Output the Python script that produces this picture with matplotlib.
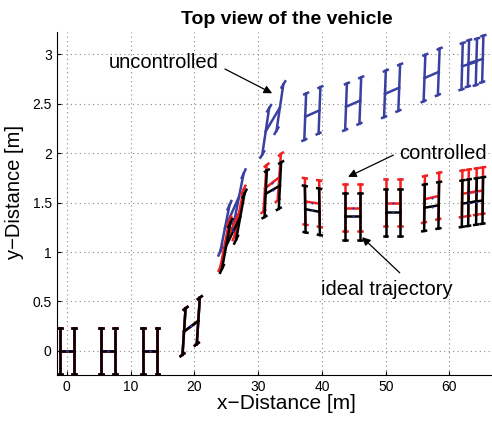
import numpy as np
import matplotlib
matplotlib.use('Agg')
import matplotlib.pyplot as plt

plt.rcParams['font.family'] = ['Liberation Sans', 'DejaVu Sans']

# vehicle poses: x [m], y [m], heading (slope dy/dx)
ideal_x = [0, 6.5, 13.1, 19.5, 26.1, 32.3, 38.5, 44.8, 51.1, 57.2, 63.1, 64.1]
ideal_y = [0, 0, 0, 0.25, 1.21, 1.63, 1.42, 1.36, 1.40, 1.46, 1.50, 1.51]
ideal_psi = [0, 0, 0, 0.048, 0.133, 0.037, -0.012, 0, 0, 0.011, 0.01, 0.01]

ctrl_x = [0, 6.5, 13.1, 19.5, 25.9, 32.2, 38.5, 44.8, 51.1, 57.2, 63.1, 64.1]
ctrl_y = [0, 0, 0, 0.25, 1.24, 1.70, 1.50, 1.45, 1.50, 1.55, 1.60, 1.61]
ctrl_psi = [0, 0, 0, 0.048, 0.14, 0.05, -0.01, 0, 0, 0.015, 0.01, 0.01]

unc_x = [0, 6.5, 13.1, 19.5, 25.9, 32.3, 38.5, 44.9, 51.0, 57.2, 63.1, 64.1]
unc_y = [0, 0, 0, 0.25, 1.40, 2.34, 2.40, 2.50, 2.63, 2.79, 2.90, 2.93]
unc_psi = [0, 0, 0, 0.048, 0.144, 0.108, 0.029, 0.028, 0.028, 0.028, 0.02, 0.02]

# annotations: text position, arrow tail, arrow tip
labels = ['uncontrolled', 'controlled', 'ideal trajectory']
label_pos = [(15.2, 2.92), (58.9, 2.0), (50.2, 0.62)]
arrow_tail = [(24.8, 2.85), (51.2, 1.98), (52.2, 0.79)]
arrow_tip = [(32.2, 2.605), (44.1, 1.76), (46.3, 1.15)]

# vehicle sketch size (drawn in plot units)
A = 1.12      # half wheelbase
W_Y = 0.235   # half track, y direction
K_X = 5.0     # skew of the axles
R = 0.3       # half wheel length
LW = 1.8


def draw_vehicle(ax, x, y, p, color):
    ux = 1 / np.sqrt(1 + p * p)
    uy = p / np.sqrt(1 + p * p)
    lx, ly = K_X * uy, W_Y * ux
    ax.plot([x - A * ux, x + A * ux], [y - A * uy, y + A * uy], color=color, lw=LW)
    for s in (-1, 1):
        cx, cy = x + s * A * ux, y + s * A * uy
        ax.plot([cx - lx, cx + lx], [cy - ly, cy + ly], color=color, lw=LW)
        for t in (-1, 1):
            wx, wy = cx + t * lx, cy + t * ly
            ax.plot([wx - R * ux, wx + R * ux], [wy - R * uy, wy + R * uy],
                    color=color, lw=LW)


fig = plt.figure(figsize=(4.92, 4.21), dpi=100)
# the original figure is cut off on the right, so the axes run past the edge
ax = fig.add_axes([0.115, 0.11, 0.936, 0.813])

for x, y, p in zip(unc_x, unc_y, unc_psi):
    draw_vehicle(ax, x, y, p, '#3a40a0')
for x, y, p in zip(ctrl_x, ctrl_y, ctrl_psi):
    draw_vehicle(ax, x, y, p, '#f02020')
for x, y, p in zip(ideal_x, ideal_y, ideal_psi):
    draw_vehicle(ax, x, y, p, 'black')
ax.plot(ctrl_x + ideal_x, ctrl_y + ideal_y, 'o', color='#3030c0', ms=1.5, mew=0)

ax.set_xlim(-1.6, 70.6)
ax.set_ylim(-0.24, 3.22)
ax.set_xticks(range(0, 61, 10))
ax.set_yticks([0, 0.5, 1, 1.5, 2, 2.5, 3])
ax.set_yticklabels(['0', '0.5', '1', '1.5', '2', '2.5', '3'])
ax.tick_params(direction='in', labelsize=10, length=3)
ax.grid(True, linestyle=(0, (1, 3)), color='#888888', lw=0.8)
ax.spines['top'].set_visible(False)
ax.spines['right'].set_visible(False)

ax.set_title('Top view of the vehicle', fontsize=14, fontweight='bold')
ax.set_xlabel('x\u2212Distance [m]', fontsize=15, labelpad=0)
ax.set_ylabel('y\u2212Distance [m]', fontsize=14.5)
ax.yaxis.set_label_coords(-0.07, 0.535)

for txt, pos, tail, tip in zip(labels, label_pos, arrow_tail, arrow_tip):
    ax.text(pos[0], pos[1], txt, ha='center', va='center', fontsize=14.5)
    ax.annotate('', xy=tip, xytext=tail,
                arrowprops=dict(arrowstyle='-|>', color='black', lw=0.9,
                                mutation_scale=12, shrinkA=0, shrinkB=0))

fig.savefig('out.png', dpi=100)
